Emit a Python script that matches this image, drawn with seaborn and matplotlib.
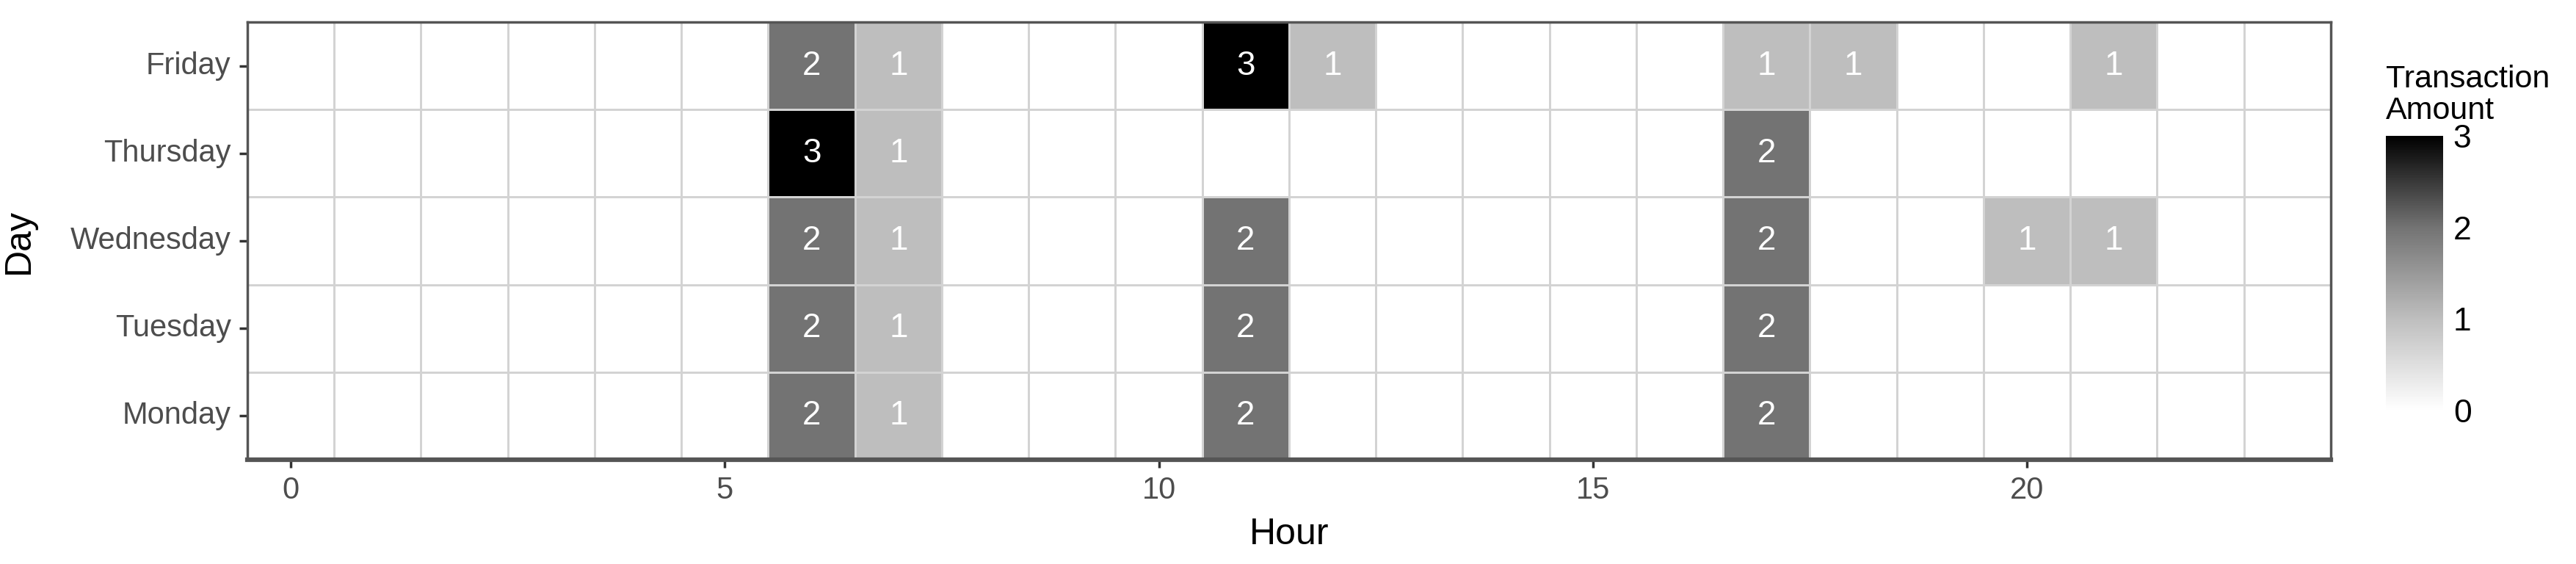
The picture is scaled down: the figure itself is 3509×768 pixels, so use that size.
import numpy as np
import pandas as pd
import matplotlib
matplotlib.use('Agg')
import matplotlib.pyplot as plt
import seaborn as sns
from matplotlib.colors import LinearSegmentedColormap

# ── Data ──────────────────────────────────────────────────────────────────────
DAYS = ['Friday', 'Thursday', 'Wednesday', 'Tuesday', 'Monday']
HOURS = list(range(24))

# transaction counts per (day, hour); hours not listed are 0
MONDAY    = {6: 2, 7: 1, 11: 2, 17: 2}
TUESDAY   = {6: 2, 7: 1, 11: 2, 17: 2}
WEDNESDAY = {6: 2, 7: 1, 11: 2, 17: 2, 20: 1, 21: 1}
THURSDAY  = {6: 3, 7: 1, 17: 2}
FRIDAY    = {6: 2, 7: 1, 11: 3, 12: 1, 17: 1, 18: 1, 21: 1}

ROWS = {'Friday': FRIDAY, 'Thursday': THURSDAY, 'Wednesday': WEDNESDAY,
        'Tuesday': TUESDAY, 'Monday': MONDAY}

X_TICKS = [0, 5, 10, 15, 20]
CBAR_TICKS = [0, 1, 2, 3]

mat = pd.DataFrame(0, index=DAYS, columns=HOURS, dtype=float)
for day, vals in ROWS.items():
    for h, v in vals.items():
        mat.loc[day, h] = v

annot = mat.map(lambda v: '' if v == 0 else f'{int(v)}')

cmap = LinearSegmentedColormap.from_list(
    'greys_tx', [(0, '#ffffff'), (1 / 3, '#bebebe'),
                 (2 / 3, '#737373'), (1, '#000000')])

# ── Figure ────────────────────────────────────────────────────────────────────
sns.set_theme(style='white')
plt.rcParams['font.family'] = ['Liberation Sans', 'DejaVu Sans']

fig = plt.figure(figsize=(35.09, 7.68), dpi=100)
ax = fig.add_axes([0.0960, 0.1849, 0.8088, 0.776])
cax = fig.add_axes([0.9262, 0.2721, 0.0222, 0.487])

sns.heatmap(mat, ax=ax, cmap=cmap, vmin=0, vmax=3,
            annot=annot, fmt='', annot_kws={'size': 33, 'color': 'white'},
            linewidths=1.0, linecolor='#d3d3d3',
            cbar_ax=cax, cbar_kws={'ticks': CBAR_TICKS})

ax.set_xticks([h + 0.5 for h in X_TICKS])
ax.set_xticklabels([str(h) for h in X_TICKS], rotation=0)
ax.set_yticks([i + 0.5 for i in range(len(DAYS))])
ax.set_yticklabels(DAYS, rotation=0)
ax.tick_params(axis='both', labelsize=30, colors='#4d4d4d',
               length=8, width=2.5, color='#333333', pad=8)
ax.tick_params(axis='x', bottom=True)
ax.tick_params(axis='y', left=True)
ax.set_xlabel('Hour', fontsize=36, color='black', labelpad=12)
ax.set_ylabel('Day', fontsize=36, color='black', labelpad=34)

for side, sp in ax.spines.items():
    sp.set_visible(True)
    sp.set_color('#555555')
    sp.set_linewidth(2.5)
ax.spines['bottom'].set_linewidth(4.5)

# colour bar styling
cbar = ax.collections[0].colorbar
cbar.outline.set_visible(False)
cax.tick_params(axis='y', direction='in', length=12, width=2, color='white',
                left=True, right=True, labelsize=32, labelcolor='black', pad=10)

fig.text(3250 / 3509, 1 - 88 / 768, 'Transaction\nAmount', fontsize=31,
         ha='left', va='top', linespacing=1.1, color='black')

fig.savefig('out.png', dpi=100)
